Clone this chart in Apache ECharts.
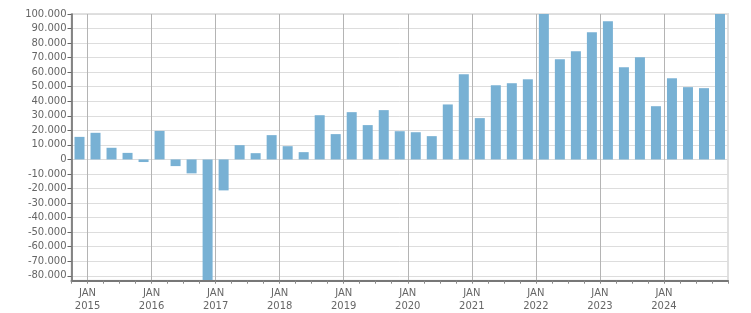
<!DOCTYPE html>
<html>
<head>
<meta charset="utf-8">
<script src="https://cdn.jsdelivr.net/npm/echarts@6/dist/echarts.min.js"></script>
<style>html,body{margin:0;padding:0;background:#fff}#c{width:751px;height:313px}</style>
</head>
<body>
<div id="c"></div>
<script>
// Quarters from Q4 2014 to Q4 2024
const categories = [
  '2014-Q4',
  '2015-Q1','2015-Q2','2015-Q3','2015-Q4',
  '2016-Q1','2016-Q2','2016-Q3','2016-Q4',
  '2017-Q1','2017-Q2','2017-Q3','2017-Q4',
  '2018-Q1','2018-Q2','2018-Q3','2018-Q4',
  '2019-Q1','2019-Q2','2019-Q3','2019-Q4',
  '2020-Q1','2020-Q2','2020-Q3','2020-Q4',
  '2021-Q1','2021-Q2','2021-Q3','2021-Q4',
  '2022-Q1','2022-Q2','2022-Q3','2022-Q4',
  '2023-Q1','2023-Q2','2023-Q3','2023-Q4',
  '2024-Q1','2024-Q2','2024-Q3','2024-Q4'
];
const values = [
  15500,
  18300, 8000, 4500, -1800,
  19600, -4600, -9600, -88000,
  -21300, 9800, 4300, 16700,
  9100, 5000, 30400, 17400,
  32500, 23600, 33900, 19400,
  18700, 16000, 37800, 58600,
  28400, 51000, 52400, 55100,
  104000, 68800, 74400, 87400,
  95000, 63300, 70200, 36600,
  55800, 49700, 49000, 108000
];
const yTickValues = [-80000,-70000,-60000,-50000,-40000,-30000,-20000,-10000,0,10000,20000,30000,40000,50000,60000,70000,80000,90000,100000];
const yMin = -83400;
const yMax = 100000;

function fmt(v){
  const s = Math.abs(v).toString().replace(/\B(?=(\d{3})+(?!\d))/g, '.');
  return (v < 0 ? '-' : '') + s;
}

// positions (band boundaries) where a year starts: left edge of each Q1 category
const janBoundaries = [];
categories.forEach(function(c, i){ if (c.slice(5) === 'Q1') janBoundaries.push(i); });

const chart = echarts.init(document.getElementById('c'), null, {renderer:'canvas'});
chart.setOption({
  animation: false,
  backgroundColor: '#fff',
  textStyle: {fontFamily: 'DejaVu Sans'},
  grid: {left: 71.5, right: 23, top: 14, bottom: 32.3, show: true, borderColor: '#e0e0e0', borderWidth: 2, containLabel: false},
  xAxis: [{
    type: 'category',
    data: categories,
    boundaryGap: true,
    axisLine: {onZero: false, lineStyle: {color: '#777', width: 2}},
    axisTick: {show: true, interval: 0, length: 3, lineStyle: {color: '#888'}},
    splitLine: {show: false},
    axisLabel: {
      interval: function(i){ return categories[i].slice(5) === 'Q1'; },
      formatter: function(v){ return 'JAN\n' + v.slice(0,4); },
      color: '#666', fontSize: 10, fontFamily: 'DejaVu Sans', lineHeight: 13,
      margin: 6, padding: [0, 16, 0, 0]
    },
    z: 3
  }, {
    type: 'value',
    position: 'bottom',
    min: 0, max: categories.length,
    axisLine: {show: false},
    axisTick: {show: false, customValues: janBoundaries},
    axisLabel: {show: false, customValues: janBoundaries},
    splitLine: {show: true, lineStyle: {color: '#b4b4b4', width: 1}}
  }],
  yAxis: {
    type: 'value',
    min: yMin, max: yMax,
    axisLine: {show: true, lineStyle: {color: '#666', width: 1.5}},
    axisTick: {show: true, length: 4, customValues: yTickValues, lineStyle: {color: '#666'}},
    splitLine: {show: true, lineStyle: {color: '#dddddd', width: 1}},
    axisLabel: {customValues: yTickValues, formatter: fmt, color: '#666', fontSize: 10, fontFamily: 'DejaVu Sans', margin: 5}
  },
  series: [{
    type: 'bar',
    xAxisIndex: 0,
    data: values,
    barWidth: 10,
    clip: true,
    itemStyle: {color: '#78b1d4'}
  }]
});
</script>
</body>
</html>
